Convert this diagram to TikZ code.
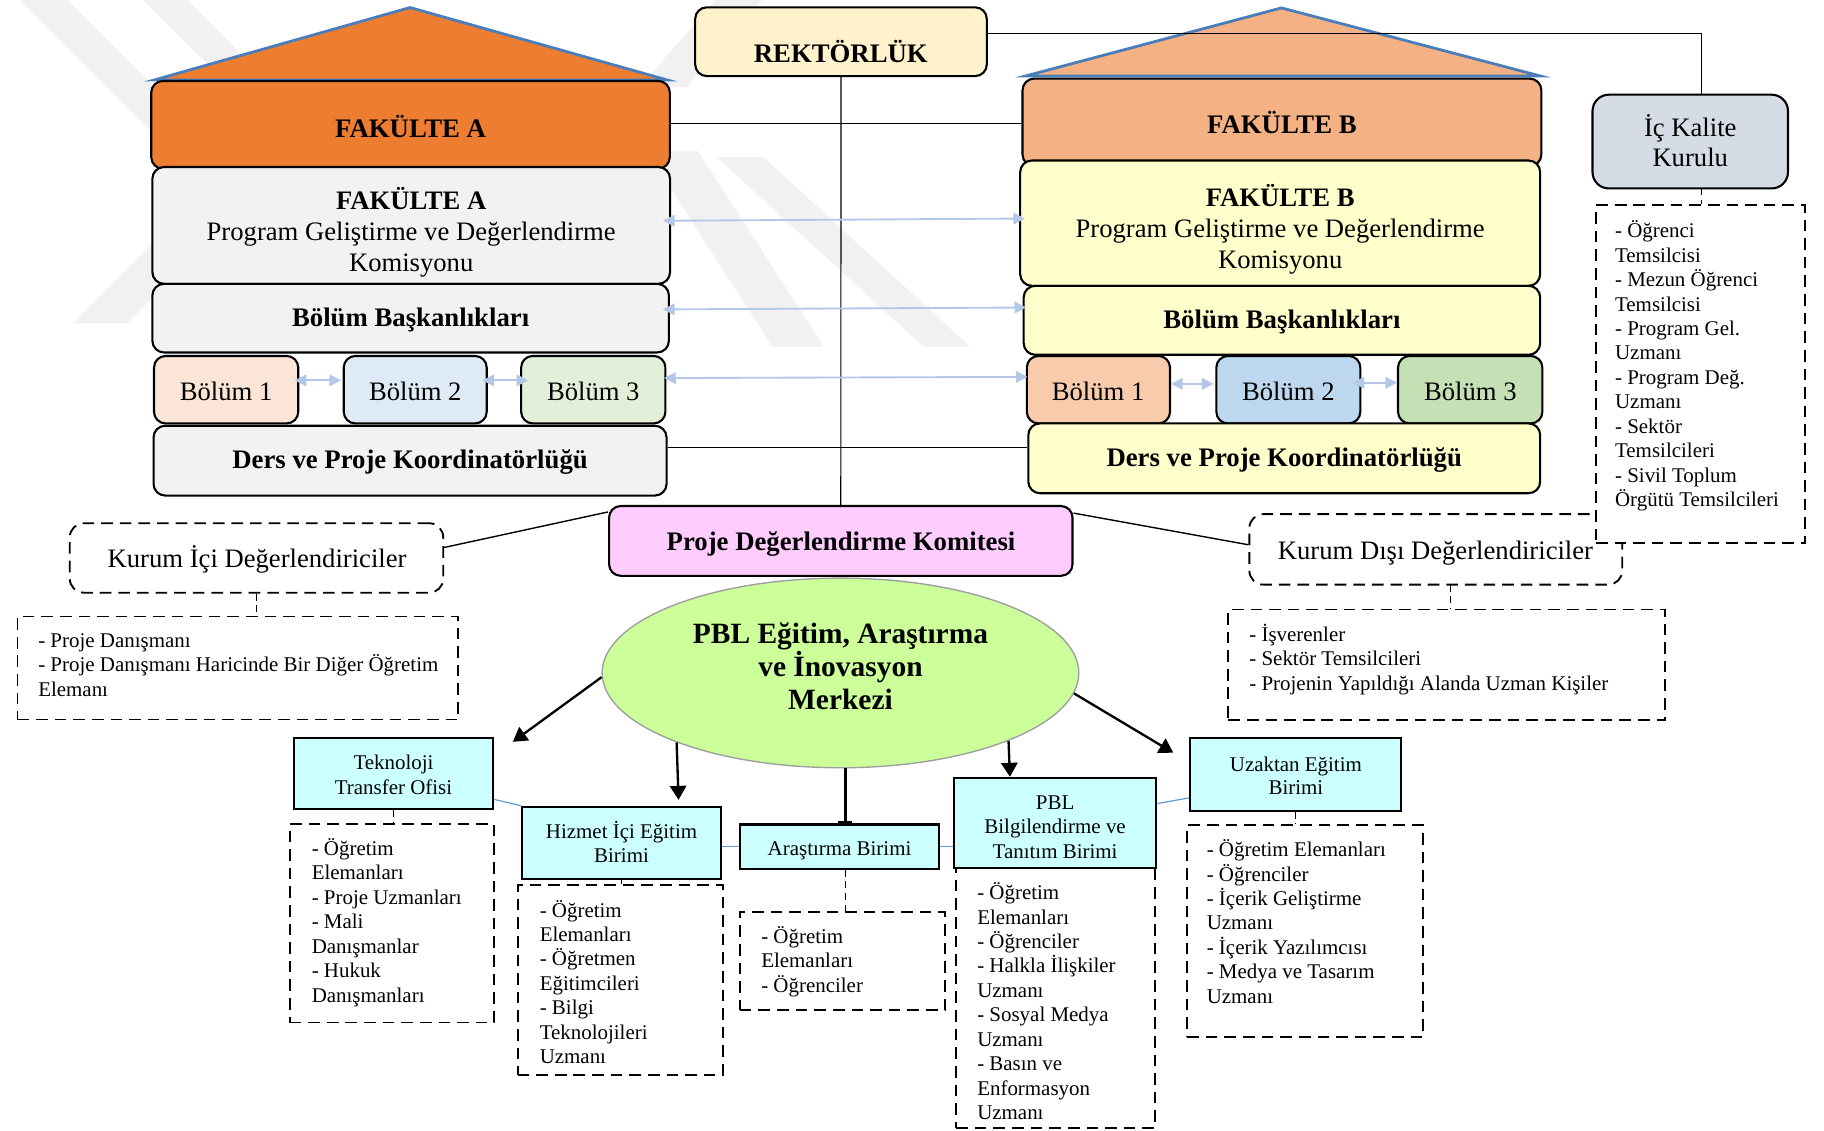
\documentclass[tikz,border=0pt]{standalone}
\usepackage{fontspec}
\setmainfont{Liberation Serif}
\usetikzlibrary{shapes.geometric,arrows.meta,calc,fit}
\definecolor{orA}{HTML}{ED7D31}
\definecolor{orB}{HTML}{F4B183}
\definecolor{roofline}{HTML}{4A7EBB}
\definecolor{grA}{HTML}{F2F2F2}
\definecolor{yeB}{HTML}{FFFFCC}
\definecolor{rekc}{HTML}{FFF2CC}
\definecolor{bAa}{HTML}{FBE5D6}
\definecolor{bAb}{HTML}{DEEBF7}
\definecolor{bAc}{HTML}{E2F0D9}
\definecolor{bBa}{HTML}{F8CBAD}
\definecolor{bBb}{HTML}{BDD7EE}
\definecolor{bBc}{HTML}{C5E0B4}
\definecolor{ickc}{HTML}{D6DCE5}
\definecolor{pinkc}{HTML}{FFCCFF}
\definecolor{ellc}{HTML}{CCFF99}
\definecolor{cyanc}{HTML}{CCFFFF}
\definecolor{lblue}{HTML}{B4C7E7}
\definecolor{linkb}{HTML}{5B9BD5}
\definecolor{wm}{HTML}{F1F1F1}
\begin{document}
\begin{tikzpicture}[x=0.5pt,y=-0.5pt,
 rbox/.style={draw=black, line width=0.9pt, rounded corners=5pt, inner sep=0pt},
 sbox/.style={draw=black, line width=0.9pt, fill=cyanc, inner sep=0pt},
 dbox/.style={draw=black, line width=0.8pt, dash pattern=on 5pt off 3pt, inner sep=0pt},
 drbox/.style={dbox, rounded corners=6pt},
 thinl/.style={draw=black, line width=0.5pt},
 dconn/.style={draw=black, line width=0.5pt, dash pattern=on 3pt off 2pt},
 dbl/.style={draw=lblue, line width=0.8pt, {Triangle[width=5pt,length=5pt]}-{Triangle[width=5pt,length=5pt]}},
 arr/.style={draw=black, line width=1pt, -{Triangle[width=7pt,length=6pt]}},
 link/.style={draw=linkb, line width=0.5pt},
 tb/.style={font=\fontsize{11.5}{13.3}\selectfont\bfseries, inner sep=0pt, anchor=base},
 tr/.style={font=\fontsize{11.45}{13.3}\selectfont, inner sep=0pt, anchor=base},
 tm/.style={font=\fontsize{11.45}{13.3}\selectfont, inner sep=0pt, anchor=north, align=center},
 ts/.style={font=\fontsize{9}{10.5}\selectfont, inner sep=0pt},
 tl/.style={ts, anchor=north west, align=left},
 tc/.style={ts, anchor=north, align=center},
]
\useasboundingbox (0,0) rectangle (1568,972);
\fill[white] (0,0) rectangle (1568,972);

% watermark
\fill[wm] (17,0) -- (58,0) -- (178,120) -- (137,120) -- cycle;
\fill[wm] (123,0) -- (161,0) -- (250,89) -- (212,89) -- cycle;
\fill[wm] (62,278) -- (109,278) -- (200,187) -- (153,187) -- cycle;
\fill[wm] (550,75) -- (590,75) -- (655,0) -- (615,0) -- cycle;
\fill[wm] (556,130) -- (600,130) -- (708,298) -- (664,298) -- cycle;
\fill[wm] (616,135) -- (656,135) -- (834,298) -- (794,298) -- cycle;

% roofs
\filldraw[fill=orA, draw=roofline, line width=1.2pt] (132.5,68.8) -- (352.5,6.5) -- (573.7,68.8) -- cycle;
\filldraw[fill=orB, draw=roofline, line width=1.2pt] (881.4,65.4) -- (1101.6,6.8) -- (1324.3,65.4) -- cycle;

% faculty A
\node[rbox, fill=orA, fit={(130,69.6) (575.8,145)}] (fa) {};
\node[rbox, fill=grA, fit={(131,143.6) (576,244)}] (ca) {};
\node[rbox, fill=grA, fit={(131,244) (575,303)}] (ba) {};
\node[rbox, fill=bAa, fit={(132.4,306) (256.4,364)}] (b1a) {};
\node[rbox, fill=bAb, fit={(295.5,306) (418.4,364)}] (b2a) {};
\node[rbox, fill=bAc, fit={(448,306) (572,364)}] (b3a) {};
\node[rbox, fill=grA, fit={(132,366) (573,426)}] (da) {};

% faculty B
\node[rbox, fill=orB, fit={(879,67.6) (1325,142.8)}] (fb) {};
\node[rbox, fill=yeB, fit={(877,138) (1324,245.7)}] (cb) {};
\node[rbox, fill=yeB, fit={(880,245.7) (1324,305)}] (bb) {};
\node[rbox, fill=bBa, fit={(882.7,306) (1005.8,364)}] (b1b) {};
\node[rbox, fill=bBb, fit={(1045.6,306) (1169.4,364)}] (b2b) {};
\node[rbox, fill=bBc, fit={(1201.8,306) (1325.9,364)}] (b3b) {};
\node[rbox, fill=yeB, fit={(884,364) (1324,424)}] (db) {};

% top and right
\node[rbox, fill=rekc, fit={(597.6,6.3) (848.3,65.4)}] (rek) {};
\node[rbox, fill=ickc, rounded corners=7pt, fit={(1369,81.4) (1537,162)}] (ick) {};

% evaluators
\node[rbox, fill=pinkc, fit={(523.6,435) (922,495)}] (kom) {};
\node[drbox, fit={(60,449.8) (381,509.5)}] (kic) {};
\node[dbox, fit={(15,530) (394,618.5)}] (kicl) {};
\node[drbox, fit={(1074,442) (1394.5,502.6)}] (kdi) {};
\node[dbox, fill=white, fit={(1372,176.6) (1552,466.8)}] (ickl) {};
\node[dbox, fit={(1056,524) (1431,619)}] (kdil) {};

% centre
\node[ellipse, draw=gray!75, line width=0.6pt, fill=ellc, minimum width=204.9pt, minimum height=81.5pt, inner sep=0pt] (ell) at (722.5,578.5) {};

% units
\node[sbox, fit={(252.6,634.6) (424,695.3)}] (tto) {};
\node[sbox, fit={(448.7,693.5) (620,756)}] (hie) {};
\node[sbox, fit={(636,708.8) (807.5,746.8)}] (arb) {};
\node[sbox, fit={(820.4,668.7) (994,745.8)}] (pbl) {};
\node[sbox, fit={(1023,634.7) (1204.7,697)}] (ued) {};
\node[dbox, fit={(249,708.5) (425,879)}] (ttol) {};
\node[dbox, fit={(445,761) (621.7,924)}] (hiel) {};
\node[dbox, fit={(636,784) (812,868.5)}] (arbl) {};
\node[dbox, fit={(822,745.8) (992.8,969.7)}] (pbll) {};
\node[dbox, fit={(1020.6,709.5) (1223,891.7)}] (uedl) {};

% connectors
\draw[thinl] (rek.south) -- (kom.north);
\coordinate (y106) at (0,106);
\draw[thinl] (fa.east |- y106) -- (fb.west |- y106);
\coordinate (y385) at (0,385);
\draw[thinl] (da.east |- y385) -- (db.west |- y385);
\coordinate (ickin) at (1463,81.4);
\coordinate (y29) at (0,29);
\draw[thinl] (rek.east |- y29) -| (ickin);
\coordinate (ickout) at (1463,162);
\draw[dconn] (ickout) -- (ickout |- ickl.north);

\draw[dbl] ($(ca.east)+(-7,-4)$) -- ($(cb.west)+(5,-4)$);
\draw[dbl] ($(ba.east)+(-6,-7.5)$) -- ($(bb.west)+(3,-11)$);
\draw[dbl] ($(b3a.east)+(-2,-10)$) -- ($(b1b.west)+(1.5,-11)$);
\draw[dbl] ($(b1a.east)+(-4,-8)$) -- ($(b2a.west)+(-1.5,-8)$);
\draw[dbl] ($(b2a.east)+(-4.5,-8)$) -- ($(b3a.west)+(7,-8)$);
\draw[dbl] ($(b1b.east)+(0,-5)$) -- ($(b2b.west)+(-1.5,-5)$);
\draw[dbl] ($(b2b.east)+(-7.5,-6)$) -- ($(b3b.west)+(0,-6)$);

\draw[thinl, line width=0.6pt] ($(kom.north west)+(0,6)$) -- ($(kic.east)+(0,-9)$);
\draw[thinl, line width=0.6pt] ($(kom.north east)+(0,7)$) -- ($(kdi.west)+(0,-4)$);
\draw[dconn] (kic.south) -- (kic.south |- kicl.north);
\coordinate (kdiout) at (1247,502.6);
\draw[dconn] (kdiout) -- (kdiout |- kdil.north);

\draw[arr] (ell.181.5) -- ($(tto.north east)+(16,4)$);
\draw[arr] (ell.203.6) -- ($(hie.north)+(49,-5)$);
\coordinate (arbtop) at ($(arb.north)+(5,0)$);
\draw[draw=black, line width=1pt, -{Bar[width=6pt]}] (ell.south -| arbtop) -- (arbtop);
\draw[arr] (ell.338.3) -- ($(pbl.north)+(-39,0)$);
\draw[arr] (ell.355.8) -- ($(ued.north west)+(-13.5,13.3)$);

\draw[link] ($(tto.south east)+(0,-9)$) -- (hie.north west);
\draw[link] (arb.west -| hie.east) -- (arb.west);
\draw[link] (arb.east) -- (arb.east -| pbl.west);
\draw[link] ($(pbl.north east)+(0,23)$) -- ($(ued.south west)+(0,-12)$);

\draw[dconn] (tto.south) -- (tto.south |- ttol.north);
\draw[dconn] (hie.south) -- (hie.south |- hiel.north);
\coordinate (arbbot) at ($(arb.south)+(5,0)$);
\draw[dconn] (arbbot) -- (arbbot |- arbl.north);
\draw[dconn] (ued.south) -- (ued.south |- uedl.north);

% texts
\node[tb] (rekt) at (722.8,54) {REKTÖRLÜK};
\node[tb] (fat) at (353,118) {FAKÜLTE A};
\node[tm] (cat) at (353.5,159.4) {\rule{0pt}{10pt}\textbf{FAKÜLTE A}\\Program Geliştirme ve Değerlendirme\\Komisyonu};
\node[tb] (bat) at (353,281) {Bölüm Başkanlıkları};
\node[tr] (b1at) at (194.4,344.5) {Bölüm 1};
\node[tr] (b2at) at (357,344.5) {Bölüm 2};
\node[tr] (b3at) at (510,344.5) {Bölüm 3};
\node[tb] (dat) at (352.5,403) {Ders ve Proje Koordinatörlüğü};

\node[tb] (fbt) at (1102,115) {FAKÜLTE B};
\node[tm] (cbt) at (1100.5,157.5) {\rule{0pt}{10pt}\textbf{FAKÜLTE B}\\Program Geliştirme ve Değerlendirme\\Komisyonu};
\node[tb] (bbt) at (1102,282.5) {Bölüm Başkanlıkları};
\node[tr] (b1bt) at (944,344) {Bölüm 1};
\node[tr] (b2bt) at (1107.5,344) {Bölüm 2};
\node[tr] (b3bt) at (1264,344) {Bölüm 3};
\node[tb] (dbt) at (1104,400.7) {Ders ve Proje Koordinatörlüğü};

\node[tm, font=\fontsize{11.45}{12.85}\selectfont] (ickt) at (1453,97) {\rule{0pt}{10pt}İç Kalite\\Kurulu};
\node[tl] (icklt) at (1388,188) {\rule{0pt}{8pt}- Öğrenci\\Temsilcisi\\- Mezun Öğrenci\\Temsilcisi\\- Program Gel.\\Uzmanı\\- Program Değ.\\Uzmanı\\- Sektör\\Temsilcileri\\- Sivil Toplum\\Örgütü Temsilcileri};

\node[tb] (komt) at (723,473) {Proje Değerlendirme Komitesi};
\node[tr] (kict) at (221,488) {Kurum İçi Değerlendiriciler};
\node[tl] (kiclt) at (32.5,540) {\rule{0pt}{8pt}- Proje Danışmanı\\- Proje Danışmanı Haricinde Bir Diğer Öğretim\\Elemanı};
\node[tr] (kdit) at (1234,481) {Kurum Dışı Değerlendiriciler};
\node[tl] (kdilt) at (1073.6,535) {\rule{0pt}{8pt}- İşverenler\\- Sektör Temsilcileri\\- Projenin Yapıldığı Alanda Uzman Kişiler};

\node[inner sep=0pt, anchor=north, align=center, font=\fontsize{12.65}{14.25}\selectfont\bfseries] (ellt) at (722.5,530.2) {\rule{0pt}{11.25pt}PBL Eğitim, Araştırma\\ve İnovasyon\\Merkezi};

\node[tc, font=\fontsize{9}{10.6}\selectfont] (ttot) at (338.3,645) {\rule{0pt}{8pt}Teknoloji\\Transfer Ofisi};
\node[tc, font=\fontsize{9}{10.4}\selectfont] (hiet) at (534.3,704.6) {\rule{0pt}{8pt}Hizmet İçi Eğitim\\Birimi};
\node[ts, anchor=base] (arbt) at (721.7,735) {Araştırma Birimi};
\node[tc, font=\fontsize{9}{10.4}\selectfont] (pblt) at (907,679.6) {\rule{0pt}{8pt}PBL\\Bilgilendirme ve\\Tanıtım Birimi};
\node[tc, font=\fontsize{9}{10.1}\selectfont] (uedt) at (1114,646.4) {\rule{0pt}{8pt}Uzaktan Eğitim\\Birimi};

\node[tl] (ttolt) at (267.6,719) {\rule{0pt}{8pt}- Öğretim\\Elemanları\\- Proje Uzmanları\\- Mali\\Danışmanlar\\- Hukuk\\Danışmanları};
\node[tl] (hielt) at (463.6,772) {\rule{0pt}{8pt}- Öğretim\\Elemanları\\- Öğretmen\\Eğitimcileri\\- Bilgi\\Teknolojileri\\Uzmanı};
\node[tl] (arblt) at (654,794.5) {\rule{0pt}{8pt}- Öğretim\\Elemanları\\- Öğrenciler};
\node[tl] (pbllt) at (839.7,757) {\rule{0pt}{8pt}- Öğretim\\Elemanları\\- Öğrenciler\\- Halkla İlişkiler\\Uzmanı\\- Sosyal Medya\\Uzmanı\\- Basın ve\\Enformasyon\\Uzmanı};
\node[tl] (uedlt) at (1037,720) {\rule{0pt}{8pt}- Öğretim Elemanları\\- Öğrenciler\\- İçerik Geliştirme\\Uzmanı\\- İçerik Yazılımcısı\\- Medya ve Tasarım\\Uzmanı};
\end{tikzpicture}
\end{document}
